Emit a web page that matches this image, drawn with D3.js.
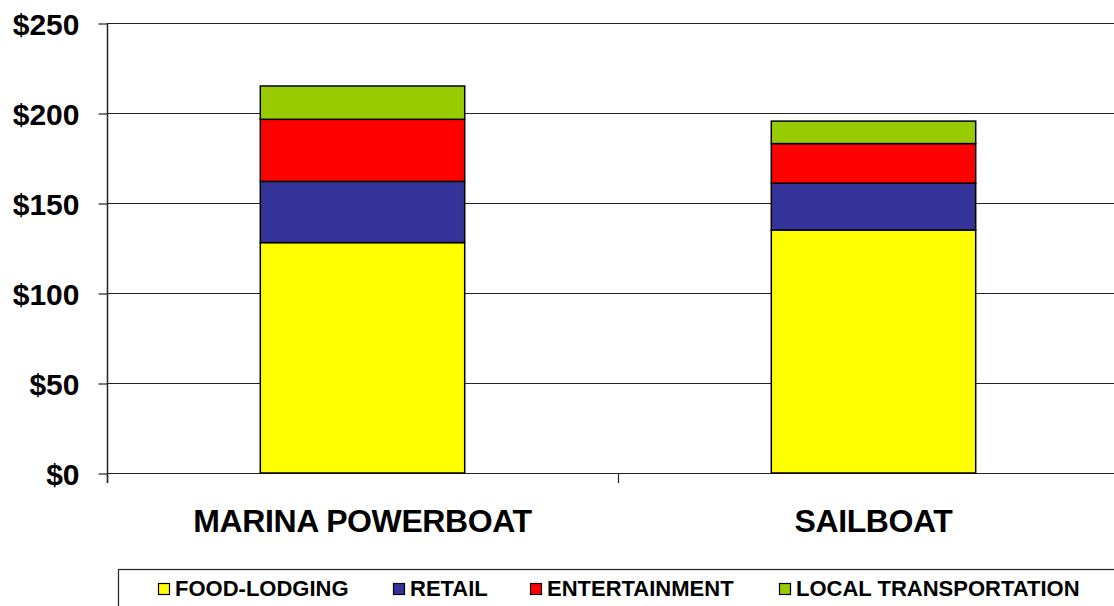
<!DOCTYPE html>
<html>
<head>
<meta charset="utf-8">
<script src="https://cdn.jsdelivr.net/npm/d3@7"></script>
<style>
  html, body { margin: 0; padding: 0; background: #fff; }
  svg { display: block; }
</style>
</head>
<body>
<svg id="chart" width="1114" height="606"></svg>
<script>
const categories = ["MARINA POWERBOAT", "SAILBOAT"];
const seriesNames = ["FOOD-LODGING", "RETAIL", "ENTERTAINMENT", "LOCAL TRANSPORTATION"];
const foodLodging = [128, 135];
const retail = [34, 26];
const entertainment = [34.5, 22];
const localTransportation = [18.5, 12.5];
const yTicks = [0, 50, 100, 150, 200, 250];
const colors = ["#FFFF00", "#333399", "#FF0000", "#99CC00"];

const seriesValues = [foodLodging, retail, entertainment, localTransportation];
const rows = categories.map((c, i) => {
  const r = { category: c };
  seriesNames.forEach((s, j) => { r[s] = seriesValues[j][i]; });
  return r;
});

const svg = d3.select("#chart");
const pLeft = 107, pRight = 1129, pTop = 23, pBottom = 473;

const x = d3.scaleBand().domain(categories).range([pLeft, pRight])
  .paddingInner(0.6).paddingOuter(0.3);
const y = d3.scaleLinear().domain([0, 250]).range([pBottom, pTop]);

// gridlines
svg.append("g").selectAll("line").data(yTicks).join("line")
  .attr("x1", pLeft).attr("x2", 1114)
  .attr("y1", d => y(d) + 0.5).attr("y2", d => y(d) + 0.5)
  .attr("stroke", "#222").attr("stroke-width", 1.2);

// stacked bars
const stack = d3.stack().keys(seriesNames)(rows);
svg.append("g").selectAll("g").data(stack).join("g")
  .attr("fill", (d, i) => colors[i])
  .selectAll("rect").data(d => d).join("rect")
  .attr("x", d => x(d.data.category))
  .attr("width", x.bandwidth())
  .attr("y", d => y(d[1]))
  .attr("height", d => y(d[0]) - y(d[1]))
  .attr("stroke", "#000").attr("stroke-width", 1.5);

// y axis
const yAxis = d3.axisLeft(y).tickValues(yTicks).tickSize(9).tickPadding(19)
  .tickFormat(d => "$" + d);
const yg = svg.append("g").attr("transform", `translate(${pLeft + 0.5},0.5)`).call(yAxis);
yg.select(".domain").remove();
yg.selectAll(".tick line").attr("stroke", "#222").attr("stroke-width", 1.2);
yg.selectAll(".tick text")
  .attr("font-family", "Liberation Sans, Arial, sans-serif")
  .attr("font-weight", "bold").attr("font-size", 30).attr("fill", "#000")
  .attr("dy", "0.36em");

// left axis line
svg.append("line").attr("x1", pLeft + 0.5).attr("x2", pLeft + 0.5)
  .attr("y1", pTop).attr("y2", pBottom + 10)
  .attr("stroke", "#222").attr("stroke-width", 1.5);

// x axis boundary ticks
const boundaries = [pLeft, x(categories[1]) - x.step() * x.paddingInner() / 2, pRight];
svg.append("g").selectAll("line").data(boundaries).join("line")
  .attr("x1", d => d + 0.5).attr("x2", d => d + 0.5)
  .attr("y1", pBottom).attr("y2", pBottom + 10)
  .attr("stroke", "#222").attr("stroke-width", 1.2);

// x labels
svg.append("g").selectAll("text").data(categories).join("text")
  .attr("x", d => x(d) + x.bandwidth() / 2)
  .attr("y", 532)
  .attr("text-anchor", "middle")
  .attr("font-family", "Liberation Sans, Arial, sans-serif")
  .attr("font-weight", "bold").attr("font-size", 32)
  .attr("letter-spacing", "-0.4px")
  .attr("fill", "#000")
  .text(d => d);

// legend
svg.append("rect").attr("x", 118.5).attr("y", 569.5).attr("width", 1100).attr("height", 60)
  .attr("fill", "#fff").attr("stroke", "#222").attr("stroke-width", 1.2);
const legendX = [158, 393, 530, 779];
const lg = svg.append("g").selectAll("g").data(seriesNames).join("g")
  .attr("transform", (d, i) => `translate(${legendX[i]},0)`);
lg.append("rect").attr("x", 0.5).attr("y", 583.5).attr("width", 11).attr("height", 11)
  .attr("fill", (d, i) => colors[i]).attr("stroke", "#000").attr("stroke-width", 1.2);
lg.append("text").attr("x", 17).attr("y", 596)
  .attr("font-family", "Liberation Sans, Arial, sans-serif")
  .attr("font-weight", "bold").attr("font-size", 22).attr("fill", "#000")
  .text(d => d);
</script>
</body>
</html>
